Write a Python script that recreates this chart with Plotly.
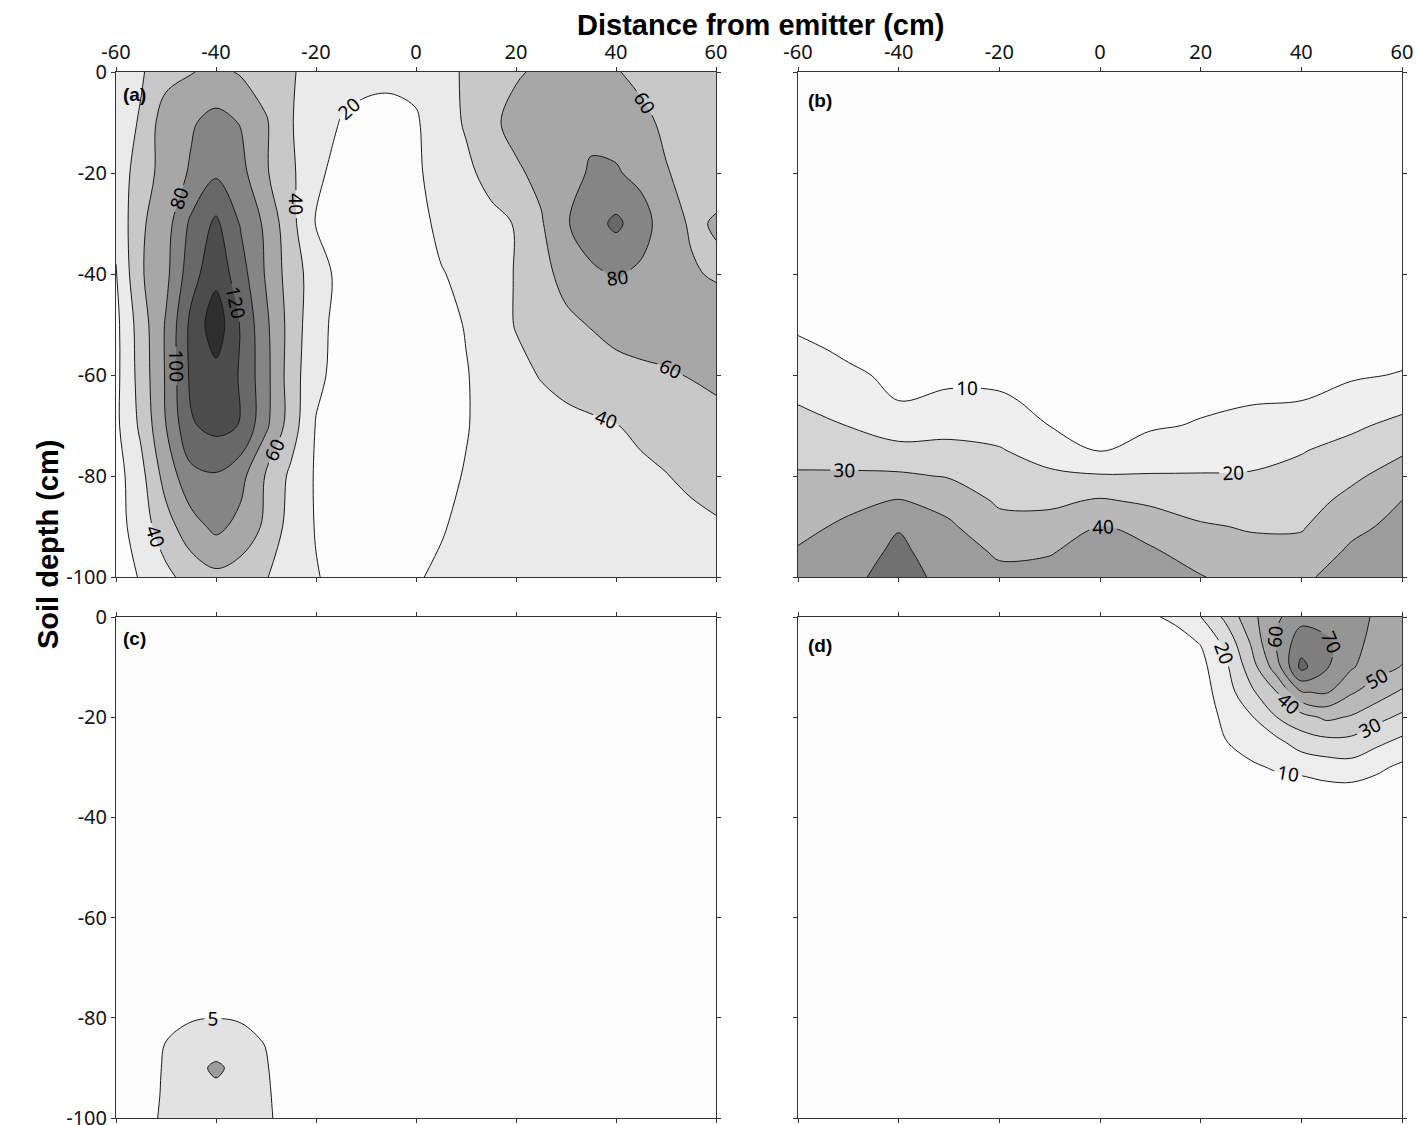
import plotly.graph_objects as go

# ---------------- data ----------------
# panel (a)
xa = list(range(-60, 61, 5))
ya = [0, -10, -20, -30, -40, -50, -60, -70, -80, -90, -100]
za = [
    [28, 38, 52, 59, 65, 58, 50, 42, 32, 27, 24, 23, 25, 32, 43, 52, 58, 63, 66, 66, 61, 56, 53, 51, 50],
    [30, 42, 72, 78, 86, 79, 62, 41, 30, 19, 16, 16, 18, 31, 42, 56, 66, 70, 74, 76, 72, 64, 57, 54, 53],
    [30, 48, 70, 82, 97, 86, 62, 44, 23, 15, 12, 12, 17, 28, 36, 46, 57, 65, 73, 82, 82, 74, 61, 55, 56],
    [24, 57, 72, 104, 124, 98, 76, 46, 19, 10, 8, 9, 14, 24, 30, 35, 41, 58, 78, 92, 104, 90, 68, 58, 61],
    [19, 58, 75, 112, 134, 108, 78, 50, 30, 14, 8, 8, 10, 19, 24, 32, 41, 54, 66, 76, 82, 76, 68, 62, 58],
    [15, 50, 82, 125, 152, 118, 84, 52, 26, 14, 8, 8, 9, 14, 21, 31, 41, 50, 56, 61, 66, 69, 70, 70, 70],
    [15, 48, 82, 124, 134, 118, 86, 50, 24, 14, 8, 7, 8, 12, 19, 27, 35, 41, 46, 50, 54, 56, 58, 61, 64],
    [16, 44, 80, 118, 126, 119, 84, 50, 19, 12, 8, 7, 8, 12, 19, 26, 30, 33, 35, 37, 39.5, 43, 46, 50, 54],
    [12, 34, 68, 94, 98, 86, 58, 36, 18, 11, 8, 8, 10, 16, 21, 25, 28, 30, 32, 33, 35, 37, 39.5, 43, 47],
    [12, 30, 52, 72, 85, 74, 56, 32, 19, 12, 10, 12, 16, 19, 23, 26, 28, 30, 31, 32, 33, 34, 35, 36, 38],
    [14, 21, 35, 48, 55, 50, 41, 30, 21, 15, 13, 15, 19, 22, 25, 27, 28, 30, 31, 32, 33, 34, 34, 35, 36],
]
levels_a = (20, 140, 20)
colors_a = ['#fcfcfc', '#eaeaea', '#c8c8c8', '#a7a7a7', '#858585', '#686868', '#4c4c4c', '#2e2e2e']

# panel (b)
xb = list(range(-60, 61, 10))
yb = [0, -20, -40, -50, -55, -60, -65, -70, -75, -80, -85, -90, -95, -100]
zb = [
    [1] * 13,
    [1] * 13,
    [3, 3, 2, 2, 2, 2, 1.5, 1.5, 2, 2, 2, 2, 2],
    [8.6, 6.8, 5.2, 5.3, 5.3, 4.6, 3.9, 4.1, 4.7, 5, 5.2, 5.6, 6.1],
    [11.8, 8.7, 6.8, 7, 7, 5.9, 5.1, 5.4, 6.1, 6.4, 6.8, 7.3, 8.1],
    [15.6, 11.3, 8.4, 8.7, 8.6, 7.2, 6.4, 6.6, 7.4, 7.9, 8.4, 9.1, 10.4],
    [19.3, 15.6, 9.9, 11.1, 10.8, 8.6, 7.6, 7.9, 8.8, 9.4, 9.9, 12.8, 16.5],
    [23.2, 19.8, 15.8, 16.7, 15.9, 9.9, 8.8, 9.2, 10.5, 12.5, 14.8, 18.3, 22.7],
    [27.2, 25.5, 22.5, 22.7, 20.8, 15.6, 9.8, 12.9, 15.6, 16.7, 19.5, 23.3, 28.7],
    [30.9, 31.3, 31.5, 29.3, 24.7, 21.9, 20.8, 20.8, 20.6, 20.8, 22.8, 28.1, 34.6],
    [34.2, 37.7, 40.7, 36.9, 28.6, 28.1, 31.2, 28.5, 25.8, 25, 25.9, 32.9, 40.2],
    [37.5, 41.7, 49.2, 41.4, 33.5, 33.9, 40.5, 36, 31, 29.2, 29.1, 37.6, 42.8],
    [40.8, 44.3, 52.4, 43.7, 38.9, 39.4, 43.7, 41.3, 35.7, 32.7, 33.3, 41.7, 45.4],
    [44, 47, 55, 46, 42, 43, 47, 44, 40.5, 36, 38, 45, 48],
]
levels_b = (10, 50, 10)
colors_b = ['#fdfdfd', '#efefef', '#d4d4d4', '#b8b8b8', '#9c9c9c', '#717171']

# panel (c)
xc = [-60, -55, -50, -45, -40, -35, -30, -25, -20, 0, 20, 40, 60]
yc = [0, -40, -70, -75, -80, -85, -90, -95, -100]
zc = [
    [0.5] * 13,
    [0.5] * 13,
    [0.5, 0.5, 1, 1.5, 1.5, 1.5, 1, 0.5, 0.5, 0.5, 0.5, 0.5, 0.5],
    [0.5, 1, 2, 2.5, 3, 2.5, 2, 1, 0.5, 0.5, 0.5, 0.5, 0.5],
    [0.5, 1.5, 3.5, 4.7, 4.95, 4.6, 3, 1, 0.5, 0.5, 0.5, 0.5, 0.5],
    [0.5, 1.8, 5.1, 6.5, 7, 6.5, 4.8, 1, 0.5, 0.5, 0.5, 0.5, 0.5],
    [0.5, 1.5, 5.8, 8, 11, 8, 5.5, 0.8, 0.5, 0.5, 0.5, 0.5, 0.5],
    [0.5, 1.8, 6, 7.5, 8.5, 7.5, 6, 1, 0.5, 0.5, 0.5, 0.5, 0.5],
    [0.5, 2, 6.5, 7.5, 8, 7.5, 6.5, 1, 0.5, 0.5, 0.5, 0.5, 0.5],
]
levels_c = (5, 10, 5)
colors_c = ['#fdfdfd', '#e2e2e2', '#9c9c9c']

# panel (d)
xd = [-60, -20, 0, 10, 15, 20, 25, 30, 35, 40, 45, 50, 55, 60]
yd = [0, -5, -10, -15, -20, -25, -30, -35, -40, -60, -100]
zd = [
    [0.5, 1, 3, 9, 11.5, 19.8, 32.4, 47, 58, 67, 65, 64, 58.5, 56],
    [0.5, 1, 2.5, 6, 7, 10.5, 23.1, 41, 62, 75, 72, 64, 56, 54],
    [0.5, 1, 2, 4, 5, 7, 18.1, 35, 55, 83, 71, 61, 54, 49.5],
    [0.5, 1, 1.5, 3, 4, 5.5, 15.3, 28, 39.5, 59.5, 61, 51, 45, 38.5],
    [0.5, 1, 1.5, 2.5, 3, 4, 12.5, 19, 29.8, 36, 42, 39, 33, 28],
    [0.5, 0.5, 1, 2, 2.5, 3, 9.7, 14, 17, 25, 27, 27, 22, 17.5],
    [0.5, 0.5, 1, 2, 2, 2.5, 7, 8.5, 11, 12, 15, 16, 12, 8],
    [0.5, 0.5, 1, 1.5, 2, 2, 4, 5, 5, 6, 6, 6, 5, 4],
    [0.5, 0.5, 1, 1.5, 1.5, 1.5, 2, 3, 3, 3, 3, 3, 3, 2],
    [0.5, 0.5, 0.5, 1, 1, 1, 1, 1, 1, 1, 1, 1, 1, 1],
    [0.5, 0.5, 0.5, 0.5, 0.5, 0.5, 0.5, 0.5, 0.5, 0.5, 0.5, 0.5, 0.5, 0.5],
]
levels_d = (10, 80, 10)
colors_d = ['#fdfdfd', '#ededed', '#dcdcdc', '#cbcbcb', '#b9b9b9', '#a7a7a7', '#959595', '#7f7f7f', '#676767']

x_ticks = [-60, -40, -20, 0, 20, 40, 60]
y_ticks = [-100, -80, -60, -40, -20, 0]

# ---------------- figure ----------------
TICKFONT = dict(family='Noto Sans', size=20, color='#111111')
LABFONT = dict(family='Noto Sans', size=19, color='#000000')


def scale(cols):
    n = len(cols)
    return [[i / (n - 1), c] for i, c in enumerate(cols)]


def contour(x, y, z, lv, cols, xr, yr):
    return go.Contour(
        x=x, y=y, z=z, xaxis=xr, yaxis=yr,
        autocontour=False,
        contours=dict(start=lv[0], end=lv[1], size=lv[2], coloring='fill',
                      showlabels=True, labelfont=LABFONT),
        colorscale=scale(cols), showscale=False,
        line=dict(color='#1a1a1a', width=1, smoothing=1.0),
        hoverinfo='skip',
    )


fig = go.Figure()
fig.add_trace(contour(xa, ya, za, levels_a, colors_a, 'x', 'y'))
fig.add_trace(contour(xb, yb, zb, levels_b, colors_b, 'x2', 'y2'))
fig.add_trace(contour(xc, yc, zc, levels_c, colors_c, 'x3', 'y3'))
fig.add_trace(contour(xd, yd, zd, levels_d, colors_d, 'x4', 'y4'))

W, H = 1418, 1125
px = lambda v: v / W
py = lambda v: 1 - v / H

dom_x_left = [px(116), px(716)]
dom_x_right = [px(798), px(1402)]
dom_y_top = [py(577), py(72)]
dom_y_bot = [py(1118), py(617)]


def xax(dom, anchor, labels):
    return dict(domain=dom, anchor=anchor, range=[-60, 60], side='top', automargin=False,
                tickmode='array', tickvals=x_ticks, ticktext=[str(v) for v in x_ticks],
                showticklabels=labels, ticks='outside', ticklen=4, tickwidth=1,
                ticklabeloverflow='allow',
                tickcolor='#333333', showline=True, linecolor='#333333', linewidth=1,
                mirror='ticks', showgrid=False, zeroline=False, tickfont=TICKFONT)


def yax(dom, anchor, labels):
    return dict(domain=dom, anchor=anchor, range=[-100, 0], automargin=False,
                tickmode='array', tickvals=y_ticks, ticktext=[str(v) for v in y_ticks],
                showticklabels=labels, ticks='outside', ticklen=4, tickwidth=1,
                ticklabeloverflow='allow',
                tickcolor='#333333', showline=True, linecolor='#333333', linewidth=1,
                mirror='ticks', showgrid=False, zeroline=False, tickfont=TICKFONT)


fig.update_layout(
    width=W, height=H, margin=dict(l=0, r=0, t=0, b=0, autoexpand=False),
    paper_bgcolor='white', plot_bgcolor='white', showlegend=False,
    xaxis=xax(dom_x_left, 'y', True), yaxis=yax(dom_y_top, 'x', True),
    xaxis2=xax(dom_x_right, 'y2', True), yaxis2=yax(dom_y_top, 'x2', False),
    xaxis3=xax(dom_x_left, 'y3', False), yaxis3=yax(dom_y_bot, 'x3', True),
    xaxis4=xax(dom_x_right, 'y4', False), yaxis4=yax(dom_y_bot, 'x4', False),
)

BOLD = 'Liberation Sans'
ann = [
    dict(text='<b>Distance from emitter (cm)</b>', x=px(760), y=py(25), xref='paper', yref='paper',
         showarrow=False, font=dict(family=BOLD, size=29, color='#000'), xanchor='center', yanchor='middle'),
    dict(text='<b>Soil depth (cm)</b>', x=px(48), y=py(545), xref='paper', yref='paper', textangle=-90,
         showarrow=False, font=dict(family=BOLD, size=29, color='#000'), xanchor='center', yanchor='middle'),
]
for lab, xx, yy in [('(a)', 121, 95), ('(b)', 806, 101), ('(c)', 121, 638), ('(d)', 806, 645)]:
    ann.append(dict(text='<b>%s</b>' % lab, x=px(xx), y=py(yy), xref='paper', yref='paper',
                    showarrow=False, font=dict(family=BOLD, size=19, color='#000'),
                    xanchor='left', yanchor='middle'))
fig.update_layout(annotations=ann)

fig.write_html('out.html')
